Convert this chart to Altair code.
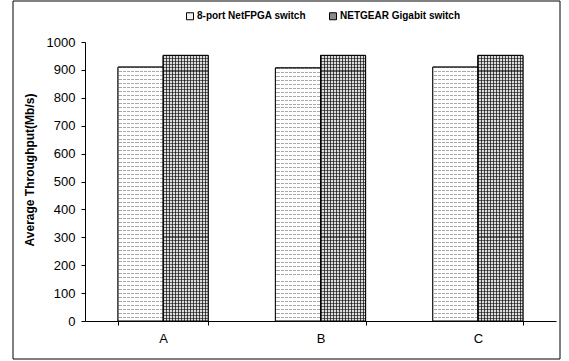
import altair as alt
import pandas as pd

categories = ["A", "B", "C"]
series = ["8-port NetFPGA switch", "NETGEAR Gigabit switch"]
netfpga = [910, 907, 910]
netgear = [952, 952, 952]
y_ticks = [0, 100, 200, 300, 400, 500, 600, 700, 800, 900, 1000]

rows = []
for i, c in enumerate(categories):
    rows.append({"cat": c, "series": series[0], "value": netfpga[i]})
    rows.append({"cat": c, "series": series[1], "value": netgear[i]})
df = pd.DataFrame(rows)

FONT = "Liberation Sans"


def stripes(n, on, off, frac, horizontal):
    stops = []
    for k in range(n):
        a = k / n
        b = (k + frac) / n
        e = (k + 1) / n
        stops += [
            {"offset": a, "color": on},
            {"offset": b, "color": on},
            {"offset": b, "color": off},
            {"offset": e, "color": off},
        ]
    g = {"gradient": "linear", "stops": stops}
    if horizontal:
        g.update(x1=0, y1=0, x2=0, y2=1)
    else:
        g.update(x1=0, y1=0, x2=1, y2=0)
    return g


x_enc = alt.X(
    "cat:N",
    title=None,
    scale=alt.Scale(domain=categories, paddingInner=0.427, paddingOuter=0.21),
    axis=alt.Axis(
        labelAngle=0, labelFont=FONT, labelFontSize=13, labelColor="black",
        domainColor="black", tickColor="black", tickSize=4, tickBand="extent",
        labelPadding=7, grid=False,
    ),
)
xo_enc = alt.XOffset(
    "series:N", scale=alt.Scale(domain=series, paddingInner=0, paddingOuter=0)
)
y_enc = alt.Y(
    "value:Q",
    scale=alt.Scale(domain=[0, 1000], nice=False),
    axis=alt.Axis(
        values=y_ticks, format="d", title="Average Throughput(Mb/s)", grid=False,
        labelFont=FONT, labelFontSize=13, labelColor="black",
        domainColor="black", tickColor="black", tickSize=4, labelPadding=6,
        titleFont=FONT, titleFontSize=12, titleFontWeight="bold", titleColor="black",
        titleX=-56, titleY=127.5, titleAlign="center", titleBaseline="middle",
    ),
)

base = alt.Chart(df).mark_bar(stroke="black", strokeWidth=1).encode(
    x=x_enc, xOffset=xo_enc, y=y_enc,
    color=alt.Color(
        "series:N",
        scale=alt.Scale(domain=series, range=["#f2f2f2", "#8a8a8a"]),
        legend=alt.Legend(
            title=None, orient="none", legendX=100, legendY=-31,
            direction="horizontal", symbolType="square", symbolSize=49,
            symbolStrokeColor="black", symbolStrokeWidth=1, symbolOpacity=1,
            labelFont=FONT, labelFontSize=10, labelFontWeight="bold",
            labelColor="black", labelOffset=2, columnPadding=21,
        ),
    ),
)

s1a = alt.Chart(df).transform_filter(alt.datum.series == series[0]).mark_bar(
    fill=stripes(64, "#a8a8a8", "#ffffff", 0.25, True)
).encode(x=x_enc, xOffset=xo_enc, y=y_enc)
s1b = alt.Chart(df).transform_filter(alt.datum.series == series[0]).mark_bar(
    fill=stripes(11, "#ffffff", "rgba(255,255,255,0)", 0.25, False)
).encode(x=x_enc, xOffset=xo_enc, y=y_enc)
s2a = alt.Chart(df).transform_filter(alt.datum.series == series[1]).mark_bar(
    fill=stripes(15, "#484848", "#dcdcdc", 0.34, False)
).encode(x=x_enc, xOffset=xo_enc, y=y_enc)
s2b = alt.Chart(df).transform_filter(alt.datum.series == series[1]).mark_bar(
    fill=stripes(88, "rgba(0,0,0,0.55)", "rgba(0,0,0,0)", 0.34, True)
).encode(x=x_enc, xOffset=xo_enc, y=y_enc)
outline = alt.Chart(df).mark_bar(fillOpacity=0, stroke="black", strokeWidth=1).encode(
    x=x_enc, xOffset=xo_enc, y=y_enc
)

frame_df = pd.DataFrame({"k": [0]})
frame = alt.Chart(frame_df).mark_rect(
    fillOpacity=0, stroke="black", strokeWidth=1
).encode(
    x=alt.value(-72), x2=alt.value(475), y=alt.value(-41), y2=alt.value(317)
)

chart = alt.layer(base, s1a, s1b, s2a, s2b, outline, frame).properties(
    width=471, height=279,
    autosize=alt.AutoSizeParams(type="none"),
    padding={"left": 85, "top": 42, "right": 13, "bottom": 40},
    background="white",
).configure_view(strokeWidth=0)

chart.save("out.html", embed_options={"renderer": "svg", "actions": False})
